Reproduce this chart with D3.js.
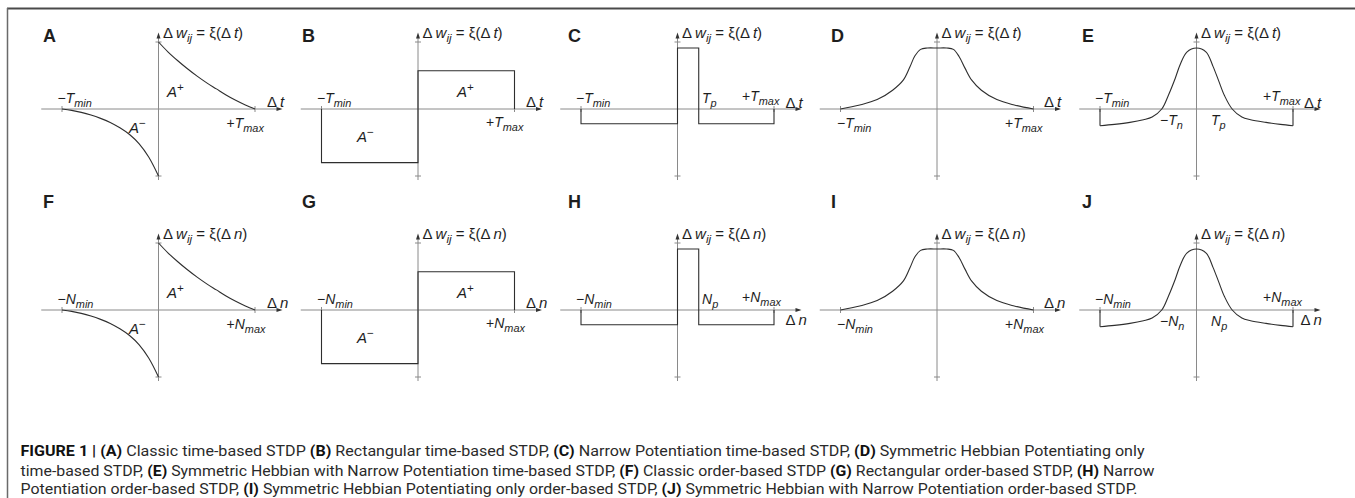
<!DOCTYPE html>
<html><head><meta charset="utf-8">
<script src="https://cdn.jsdelivr.net/npm/d3@7"></script>
<style>
html,body{margin:0;padding:0;background:#fff;}
svg{display:block;}
text{font-family:"Liberation Sans",Arial,Helvetica,sans-serif;fill:#1e1e1e;}
.cap{font-family:Roboto,"Liberation Sans",sans-serif;fill:#2a2a2a;}
</style></head>
<body>
<script>
// ---------- data ----------
const panelLetters = ["A","B","C","D","E","F","G","H","I","J"];
const rowVariables = ["t","n"];
const rowBounds = ["T","N"];
const panelTypes = ["classic","rect","narrow","bell","hebb"];

// Classic STDP (A, F): potentiation branch and depression branch
const classicPosX = [0, 0.1, 0.2, 0.3, 0.4, 0.5, 0.6, 0.7, 0.8, 0.9, 1];
const classicPosY = [1, 0.85, 0.72, 0.6, 0.49, 0.39, 0.3, 0.21, 0.13, 0.06, 0];
const classicNegX = [-1, -0.9, -0.8, -0.7, -0.6, -0.5, -0.4, -0.3, -0.2, -0.1, 0];
const classicNegY = [0, -0.02, -0.05, -0.09, -0.14, -0.2, -0.28, -0.38, -0.52, -0.72, -1];

// Rectangular STDP (B, G)
const rectX = [-1, -1, 0, 0, 1, 1];
const rectY = [0, -0.8, -0.8, 0.57, 0.57, 0];

// Narrow potentiation STDP (C, H)
const narrowX = [-1, -1, 0, 0, 0.22, 0.22, 1, 1];
const narrowY = [0, -0.22, -0.22, 0.91, 0.91, -0.22, -0.22, 0];

// Symmetric Hebbian potentiating only (D, I)
const bellX = [-1, -0.8, -0.62, -0.46, -0.35, -0.28, -0.23, -0.17, -0.1, 0, 0.1, 0.17, 0.23, 0.29, 0.36, 0.46, 0.62, 0.8, 1];
const bellY = [0, 0.06, 0.14, 0.28, 0.43, 0.63, 0.79, 0.89, 0.91, 0.91, 0.91, 0.89, 0.78, 0.61, 0.43, 0.28, 0.14, 0.06, 0];

// Symmetric Hebbian with narrow potentiation (E, J)
const hebbX = [-1, -0.85, -0.69, -0.55, -0.46, -0.36, -0.29, -0.22, -0.17, -0.1, 0, 0.1, 0.17, 0.23, 0.29, 0.37, 0.47, 0.56, 0.72, 0.87, 1];
const hebbY = [-0.25, -0.23, -0.2, -0.16, -0.12, 0, 0.21, 0.46, 0.66, 0.85, 0.91, 0.85, 0.64, 0.42, 0.2, 0, -0.12, -0.16, -0.2, -0.23, -0.25];

const zip = (xs, ys) => xs.map((x, i) => [x, ys[i]]);

// ---------- layout ----------
const W = 1355, H = 498;
const svg = d3.select("body").append("svg").attr("width", W).attr("height", H);

// frame
svg.append("line").attr("x1", 7).attr("x2", W).attr("y1", 8.5).attr("y2", 8.5).attr("stroke", "#4a4a4a").attr("stroke-width", 2);
svg.append("line").attr("x1", 7.5).attr("x2", 7.5).attr("y1", 8).attr("y2", H).attr("stroke", "#6a6a6a").attr("stroke-width", 1.5);

const originsX = [158.5, 418, 677.5, 937, 1196.5];
const axisY = [109, 310];
const letterX = [43, 302, 568, 831, 1082];
const letterY = [42, 208];
const yLabelY = [38, 239];

function label(g, x, y, parts, size, anchor) {
  const s = size || 14;
  const t = g.append("text").attr("x", x).attr("y", y).attr("font-size", s)
    .attr("text-anchor", anchor || "start");
  let shift = 0;
  parts.forEach(p => {
    const str = p[0], f = p[1] || "";
    const ts = t.append("tspan").text(str);
    const target = f.includes("d") ? s * 0.28 : f.includes("u") ? -s * 0.38 : 0;
    if (target - shift !== 0) ts.attr("dy", target - shift);
    shift = target;
    if (f.includes("i")) ts.attr("font-style", "italic");
    if (f.includes("d") || f.includes("u")) ts.attr("font-size", s * 0.78);
  });
  return t;
}

const line = d3.line();
const curveLine = d3.line().curve(d3.curveCatmullRom.alpha(0.5));
const axisColor = "#8a8a8a";
const curveColor = "#2e2e2e";

for (let r = 0; r < 2; r++) {
  const v = rowVariables[r], B = rowBounds[r];
  for (let c = 0; c < 5; c++) {
    const ox = originsX[c], ay = axisY[r];
    const type = panelTypes[c];
    const g = svg.append("g");
    const x = d3.scaleLinear().domain([-1, 1]).range([ox - 96.5, ox + 96.5]);
    const y = d3.scaleLinear().domain([-1, 1]).range([ay + 67, ay - 67]);

    // panel letter
    g.append("text").attr("x", letterX[c]).attr("y", letterY[r]).attr("font-size", 18)
      .attr("font-weight", "bold").attr("fill", "#111").text(panelLetters[r * 5 + c]);

    // axes
    const xa0 = x(-1.215), xa1 = x(1.285);
    g.append("line").attr("x1", xa0).attr("x2", xa1 - 2).attr("y1", y(0)).attr("y2", y(0))
      .attr("stroke", axisColor).attr("stroke-width", 1);
    g.append("path").attr("d", `M${xa1},${y(0)}L${xa1 - 6},${y(0) - 2}L${xa1 - 6},${y(0) + 2}Z`).attr("fill", "#333");
    const ya0 = y(-1.06), ya1 = y(1.14);
    g.append("line").attr("x1", x(0)).attr("x2", x(0)).attr("y1", ya0).attr("y2", ya1 + 2)
      .attr("stroke", axisColor).attr("stroke-width", 1);
    g.append("path").attr("d", `M${x(0)},${ya1}L${x(0) - 2},${ya1 + 6}L${x(0) + 2},${ya1 + 6}Z`).attr("fill", "#333");
    [-1, 1].forEach(t => {
      g.append("line").attr("x1", x(t)).attr("x2", x(t)).attr("y1", y(0) - 3).attr("y2", y(0) + 3)
        .attr("stroke", axisColor);
      g.append("line").attr("x1", x(0) - 3).attr("x2", x(0) + 3).attr("y1", y(t)).attr("y2", y(t))
        .attr("stroke", axisColor);
    });

    // curves
    const draw = (pts, gen) => g.append("path").attr("d", gen(pts.map(p => [x(p[0]), y(p[1])])))
      .attr("fill", "none").attr("stroke", curveColor).attr("stroke-width", 1.1);
    if (type === "classic") {
      draw(zip(classicPosX, classicPosY), curveLine);
      draw(zip(classicNegX, classicNegY), curveLine);
    } else if (type === "rect") {
      draw(zip(rectX, rectY), line);
    } else if (type === "narrow") {
      draw(zip(narrowX, narrowY), line);
    } else if (type === "bell") {
      draw(zip(bellX, bellY), curveLine);
    } else {
      draw(zip(hebbX, hebbY), curveLine);
      const n = hebbX.length - 1;
      draw([[hebbX[0], 0], [hebbX[0], hebbY[0]]], line);
      draw([[hebbX[n], hebbY[n]], [hebbX[n], 0]], line);
    }

    // y label
    label(g, ox + 4.5, yLabelY[r], [["Δ"], ["\u2009"], ["w", "i"], ["ij", "id"], [" = ξ(Δ"], ["\u2009"], [v, "i"], [")"]], 15);

    const minL = [["−"], [B, "i"], ["min", "id"]];
    const maxL = [["+"], [B, "i"], ["max", "id"]];
    const dL = [["Δ\u2009"], [v, "i"]];
    if (type === "classic") {
      label(g, ox - 101, ay - 6, minL, 14);
      label(g, ox + 8.5, ay - 12, [["A", "i"], ["+", "u"]], 15);
      label(g, ox - 29.5, ay + 24, [["A", "i"], ["−", "u"]], 15);
      label(g, ox + 68, ay + 19, maxL, 14);
      label(g, ox + 108.5, ay - 2, dL, 15);
    } else if (type === "rect") {
      label(g, ox - 101, ay - 6, minL, 14);
      label(g, ox + 39, ay - 12, [["A", "i"], ["+", "u"]], 15);
      label(g, ox - 61, ay + 33, [["A", "i"], ["−", "u"]], 15);
      label(g, ox + 68, ay + 18, maxL, 14);
      label(g, ox + 108, ay - 2, dL, 15);
    } else if (type === "narrow") {
      label(g, ox - 101.5, ay - 6, minL, 14);
      label(g, ox + 24.5, ay - 6, [[B, "i"], ["p", "id"]], 14);
      label(g, ox + 64.5, ay - 8, maxL, 14);
      label(g, ox + 108, r === 0 ? ay - 1 : ay + 15, dL, 15);
    } else if (type === "bell") {
      label(g, ox - 100, ay + 19, minL, 14);
      label(g, ox + 68, ay + 19, maxL, 14);
      label(g, ox + 107, ay - 2, dL, 15);
    } else {
      label(g, ox - 101.5, ay - 6, minL, 14);
      label(g, ox - 36.5, ay + 16, [["−"], [B, "i"], ["n", "id"]], 14);
      label(g, ox + 14.5, ay + 16, [[B, "i"], ["p", "id"]], 14);
      label(g, ox + 66.5, ay - 8, maxL, 14);
      label(g, ox + (r === 0 ? 107.5 : 104), r === 0 ? ay - 1 : ay + 15, dL, 15);
    }
  }
}

// ---------- caption ----------
const captionLines = [
  [["FIGURE 1 | (A)", "b"], [" Classic time-based STDP "], ["(B)", "b"], [" Rectangular time-based STDP, "], ["(C)", "b"], [" Narrow Potentiation time-based STDP, "], ["(D)", "b"], [" Symmetric Hebbian Potentiating only"]],
  [["time-based STDP, "], ["(E)", "b"], [" Symmetric Hebbian with Narrow Potentiation time-based STDP, "], ["(F)", "b"], [" Classic order-based STDP "], ["(G)", "b"], [" Rectangular order-based STDP, "], ["(H)", "b"], [" Narrow"]],
  [["Potentiation order-based STDP, "], ["(I)", "b"], [" Symmetric Hebbian Potentiating only order-based STDP, "], ["(J)", "b"], [" Symmetric Hebbian with Narrow Potentiation order-based STDP."]]
];
const capY = [456, 475.5, 494];
const capW = [1124, 1134, 1117];
captionLines.forEach((parts, i) => {
  const t = svg.append("text").attr("class", "cap").attr("x", 20.5).attr("y", capY[i])
    .attr("font-size", 14.5).attr("textLength", capW[i]).attr("lengthAdjust", "spacingAndGlyphs");
  parts.forEach(p => {
    const ts = t.append("tspan").text(p[0]);
    if ((p[1] || "").includes("b")) ts.attr("font-weight", "bold").attr("fill", "#111");
  });
});
</script>
</body></html>
